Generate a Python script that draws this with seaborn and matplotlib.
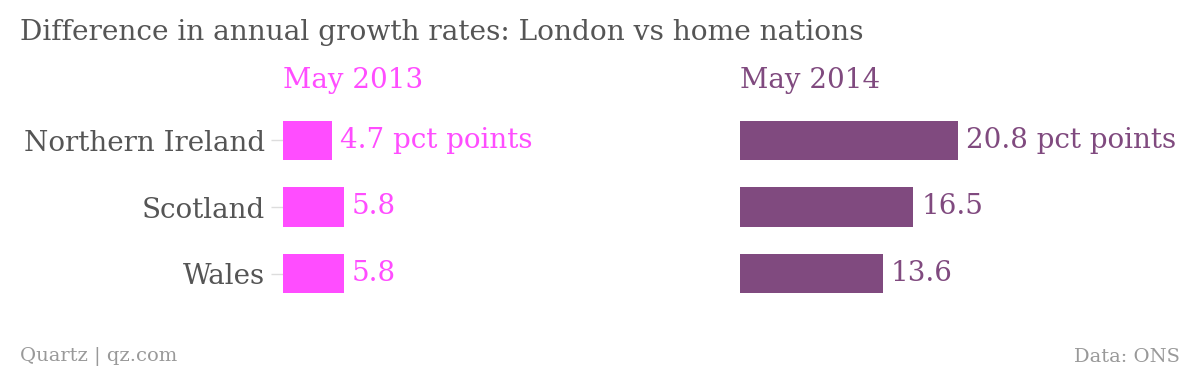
import matplotlib
matplotlib.use("Agg")
import matplotlib.pyplot as plt
import seaborn as sns
import pandas as pd

# data
regions = ["Northern Ireland", "Scotland", "Wales"]
may_2013 = [4.7, 5.8, 5.8]
may_2014 = [20.8, 16.5, 13.6]
panel_titles = ["May 2013", "May 2014"]
colors = ["#ff4dff", "#804a7f"]

sns.set_theme(style="white")
plt.rcParams["font.family"] = ["DejaVu Serif"]

fig = plt.figure(figsize=(12, 3.74), dpi=100)
W, H = 1200, 374
ax_w = 420
ax_top, ax_bot = 107, 307
axes = [
    fig.add_axes([283 / W, (H - ax_bot) / H, ax_w / W, (ax_bot - ax_top) / H]),
    fig.add_axes([740 / W, (H - ax_bot) / H, ax_w / W, (ax_bot - ax_top) / H]),
]

for i, (ax, vals) in enumerate(zip(axes, [may_2013, may_2014])):
    df = pd.DataFrame({"region": regions, "value": vals})
    sns.barplot(data=df, x="value", y="region", orient="h", color=colors[i],
                saturation=1, width=0.59, linewidth=0, ax=ax)
    ax.set_xlim(0, 40)
    ax.set_xlabel("")
    ax.set_ylabel("")
    ax.set_xticks([])
    for s in ax.spines.values():
        s.set_visible(False)
    for j, v in enumerate(vals):
        txt = f"{v} pct points" if j == 0 else f"{v}"
        ax.text(v + 0.75, j, txt, va="center", ha="left", fontsize=20,
                color=colors[i])
    ax.text(0, 1.0 + 27 / 200, panel_titles[i], transform=ax.transAxes,
            ha="left", va="center", fontsize=20, color=colors[i])
    if i == 0:
        ax.tick_params(axis="y", left=True, length=8.6, width=1, color="#dddddd",
                       pad=4.5, labelsize=20, labelcolor="#555555")
    else:
        ax.set_yticks([])

fig.text(20 / W, 1 - 32 / H, "Difference in annual growth rates: London vs home nations",
         ha="left", va="center", fontsize=20.2, color="#555555")
fig.text(20 / W, 1 - 357 / H, "Quartz | qz.com", ha="left", va="center",
         fontsize=14, color="#999999")
fig.text(1180 / W, 1 - 357 / H, "Data: ONS", ha="right", va="center",
         fontsize=14, color="#999999")

fig.savefig("out.png", dpi=100, facecolor="white")
